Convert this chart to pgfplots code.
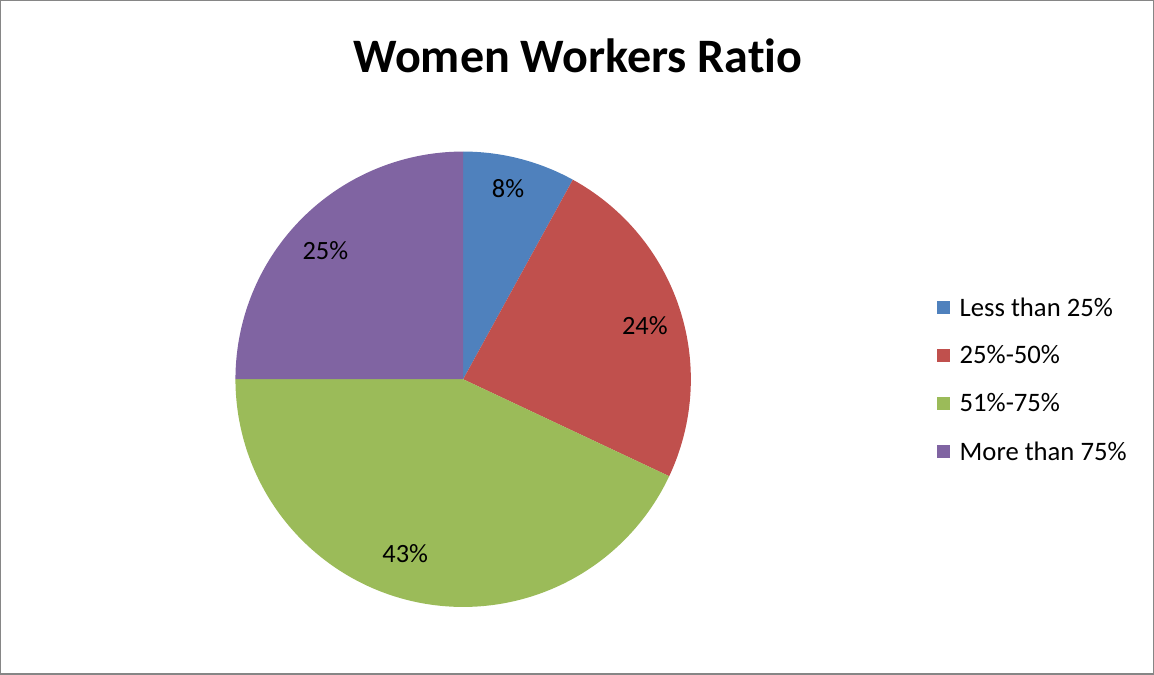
\documentclass[border=0pt]{standalone}
\usepackage{pgfplots}
\pgfplotsset{compat=1.18}
\usepackage{fontspec}
\setmainfont{Carlito}[Ligatures={NoCommon}]
\definecolor{sBlue}{HTML}{4F81BD}
\definecolor{sRed}{HTML}{C0504D}
\definecolor{sGreen}{HTML}{9BBB59}
\definecolor{sPurple}{HTML}{8064A2}
\definecolor{frame}{HTML}{868686}
% slice shares in percent
\def\pA{8}\def\pB{24}\def\pC{43}\def\pD{25}
\def\cx{463}\def\cy{295}\def\rr{228}
\begin{document}
\begin{tikzpicture}
\begin{axis}[
  x=1bp, y=1bp,
  xmin=0, xmax=1154, ymin=0, ymax=674,
  xtick=\empty, ytick=\empty,
  axis line style={draw=frame, line width=1.5bp},
  clip=false,
  legend style={at={(axis cs:934,381)}, anchor=north west, draw=none, fill=none,
    font=\fontsize{26.8}{30}\selectfont, row sep=24.3bp,
    /tikz/every odd column/.append style={column sep=8bp}},
  legend cell align=left,
  legend image code/.code={\fill[#1] (0bp,-6.5bp) rectangle (13bp,6.5bp);},
]
\addplot[fill=sBlue, draw=none, domain={90-3.6*\pA}:90, samples=80]
  ({\cx+\rr*cos(x)}, {\cy+\rr*sin(x)}) -- (axis cs:\cx,\cy) -- cycle;
\addlegendentry{Less than 25\%}
\addplot[fill=sRed, draw=none, domain={90-3.6*(\pA+\pB)}:{90-3.6*\pA}, samples=120]
  ({\cx+\rr*cos(x)}, {\cy+\rr*sin(x)}) -- (axis cs:\cx,\cy) -- cycle;
\addlegendentry{25\%-50\%}
\addplot[fill=sGreen, draw=none, domain={90-3.6*(\pA+\pB+\pC)}:{90-3.6*(\pA+\pB)}, samples=160]
  ({\cx+\rr*cos(x)}, {\cy+\rr*sin(x)}) -- (axis cs:\cx,\cy) -- cycle;
\addlegendentry{51\%-75\%}
\addplot[fill=sPurple, draw=none, domain={90-3.6*(\pA+\pB+\pC+\pD)}:{90-3.6*(\pA+\pB+\pC)}, samples=120]
  ({\cx+\rr*cos(x)}, {\cy+\rr*sin(x)}) -- (axis cs:\cx,\cy) -- cycle;
\addlegendentry{More than 75\%}
\node[font=\bfseries\fontsize{48.3}{50}\selectfont] at (axis cs:578,619) {Women Workers Ratio};
\node[font=\fontsize{26.5}{30}\selectfont, inner sep=0pt] at (axis cs:508,486) {\pA\%};
\node[font=\fontsize{26.5}{30}\selectfont, inner sep=0pt] at (axis cs:645,349) {\pB\%};
\node[font=\fontsize{26.5}{30}\selectfont, inner sep=0pt] at (axis cs:405,120) {\pC\%};
\node[font=\fontsize{26.5}{30}\selectfont, inner sep=0pt] at (axis cs:325,424) {\pD\%};
\end{axis}
\end{tikzpicture}
\end{document}
